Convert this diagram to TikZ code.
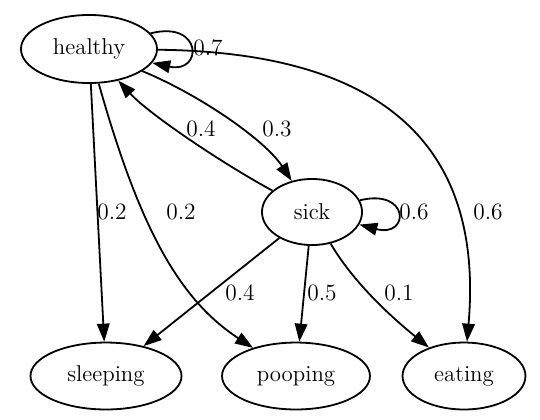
\documentclass[tikz,border=0pt]{standalone}
\usetikzlibrary{arrows.meta,shapes.geometric}
\begin{document}
\begin{tikzpicture}[x=0.5556pt,y=-0.5556pt,
  state/.style={draw,ellipse,line width=1pt,inner sep=0pt,font=\fontsize{12.7pt}{15pt}\selectfont},
  edge/.style={line width=1pt,-{Triangle[length=10pt,width=7pt]}},
  lbl/.style={font=\fontsize{13pt}{15pt}\selectfont,inner sep=0pt}]
\useasboundingbox (0,0) rectangle (540,419);
\node[state,minimum width=75.6pt,minimum height=37.8pt] (healthy) at (89,49) {healthy};
\node[state,minimum width=55.6pt,minimum height=36.7pt] (sick) at (312,212) {sick};
\node[state,minimum width=83.9pt,minimum height=37.2pt] (sleeping) at (106,376) {sleeping};
\node[state,minimum width=82.2pt,minimum height=37.2pt] (pooping) at (296,376) {pooping};
\node[state,minimum width=68.3pt,minimum height=37.2pt] (eating) at (464,376) {eating};
% healthy edges
\draw[edge] (healthy) .. controls (203,20) and (203,74) .. (healthy);
\draw[edge] (healthy) .. controls (200,95) and (265,140) .. (sick);
\draw[edge] (healthy) -- (sleeping);
\draw[edge] (healthy) .. controls (140,230) and (180,300) .. (pooping);
\draw[edge] (healthy) .. controls (370,52) and (485,135) .. (eating);
% sick edges
\draw[edge] (sick) .. controls (225,165) and (150,115) .. (healthy);
\draw[edge] (sick) .. controls (410,188) and (410,238) .. (sick);
\draw[edge] (sick) -- (sleeping);
\draw[edge] (sick) -- (pooping);
\draw[edge] (sick) .. controls (355,285) and (395,320) .. (eating);
% labels
\node[lbl] (l1) at (208,48) {0.7};
\node[lbl] (l2) at (277,129) {0.3};
\node[lbl] (l3) at (201,129) {0.4};
\node[lbl] (l4) at (112,212) {0.2};
\node[lbl] (l5) at (181,212) {0.2};
\node[lbl] (l6) at (488,212) {0.6};
\node[lbl] (l7) at (414,212) {0.6};
\node[lbl] (l8) at (240,293) {0.4};
\node[lbl] (l9) at (322,293) {0.5};
\node[lbl] (l10) at (399,293) {0.1};
\end{tikzpicture}
\end{document}
